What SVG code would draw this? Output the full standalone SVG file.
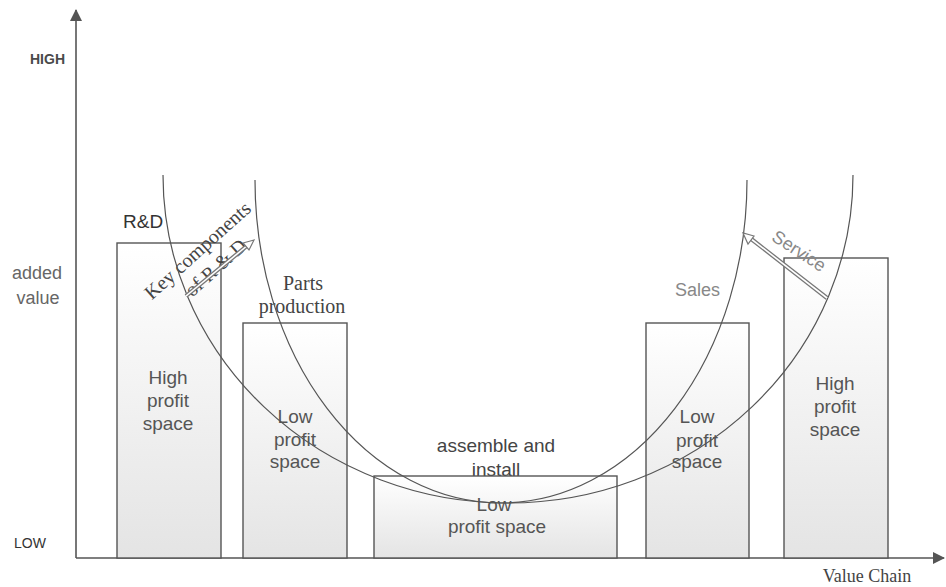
<svg xmlns="http://www.w3.org/2000/svg" width="946" height="587" viewBox="0 0 946 587">
<defs>
<linearGradient id="barg" x1="0" y1="0" x2="0" y2="1">
<stop offset="0" stop-color="#ffffff"/>
<stop offset="1" stop-color="#e4e4e4"/>
</linearGradient>
<marker id="ah" viewBox="0 0 12 12" refX="11" refY="6" markerWidth="12" markerHeight="12" markerUnits="userSpaceOnUse" orient="auto">
<path d="M0,0 L12,6 L0,12 Z" fill="#555"/>
</marker>
<style>
.bar{fill:url(#barg);stroke:#555;stroke-width:1.4}
.sans{font-family:"Liberation Sans",Arial,sans-serif}
.serif{font-family:"Liberation Serif","Times New Roman",serif}
.bt{font-family:"Liberation Sans",Arial,sans-serif;font-size:19px;fill:#555;text-anchor:middle}
.curve{fill:none;stroke:#555;stroke-width:1.2}
.axis{stroke:#555;stroke-width:1.6;fill:none}
.dbl{fill:none;stroke:#777;stroke-width:4.2}
.dbli{fill:none;stroke:#fff;stroke-width:1.6}
</style>
</defs>
<rect width="946" height="587" fill="#fff"/>

<g id="axes">
<line class="axis" x1="76" y1="558" x2="76" y2="10" marker-end="url(#ah)"/>
<line class="axis" x1="76" y1="558" x2="944" y2="558" marker-end="url(#ah)"/>
<text class="sans" x="30" y="64" font-size="14" font-weight="bold" fill="#4a4a4a">HIGH</text>
<text class="sans" x="14" y="548" font-size="14" fill="#333">LOW</text>
<text class="sans" x="37" y="279" font-size="18" fill="#666" text-anchor="middle">added</text>
<text class="sans" x="38" y="304" font-size="18" fill="#666" text-anchor="middle">value</text>
<text class="serif" x="867" y="582" font-size="18" fill="#444" text-anchor="middle">Value Chain</text>
</g>

<g id="rd">
<rect class="bar" x="117" y="243" width="104" height="315"/>
<text class="sans" x="123" y="228" font-size="19" fill="#333">R&amp;D</text>
<text class="bt" x="168" y="384">High</text>
<text class="bt" x="168" y="407">profit</text>
<text class="bt" x="168" y="430">space</text>
</g>

<g id="parts">
<rect class="bar" x="243" y="323" width="104" height="235"/>
<text class="serif" x="303" y="290" font-size="20" fill="#444" text-anchor="middle">Parts</text>
<text class="serif" x="302" y="313" font-size="20" fill="#444" text-anchor="middle">production</text>
<text class="bt" x="295" y="423">Low</text>
<text class="bt" x="295" y="446">profit</text>
<text class="bt" x="295" y="468">space</text>
</g>

<g id="assemble">
<text class="sans" x="496" y="452" font-size="19" fill="#444" text-anchor="middle">assemble and</text>
<text class="sans" x="496" y="476" font-size="19" fill="#444" text-anchor="middle">install</text>
<rect class="bar" x="374" y="476" width="243" height="82"/>
<text class="bt" x="494" y="511">Low</text>
<text class="bt" x="497" y="533">profit space</text>
</g>

<g id="sales">
<rect class="bar" x="646" y="323" width="103" height="235"/>
<text class="sans" x="675" y="296" font-size="18" fill="#888">Sales</text>
<text class="bt" x="697" y="423">Low</text>
<text class="bt" x="697" y="447">profit</text>
<text class="bt" x="697" y="468">space</text>
</g>

<g id="service">
<rect class="bar" x="784" y="258" width="104" height="300"/>
<text class="bt" x="835" y="390">High</text>
<text class="bt" x="835" y="413">profit</text>
<text class="bt" x="835" y="436">space</text>
</g>

<g id="keycomp">
<g transform="translate(198,251) rotate(-42)">
<text class="serif" x="0" y="6" font-size="20" fill="#444" text-anchor="middle">Key components</text>
<text class="serif" x="2" y="31" font-size="20" fill="#444" text-anchor="middle">of R &amp; D</text>
</g>
</g>

<g id="servicelabel">
<g transform="translate(799,251) rotate(33)">
<text class="sans" x="0" y="6" font-size="18" fill="#888" text-anchor="middle">Service</text>
</g>
</g>

<g id="connectors">
<path class="curve" d="M163,175 A345,328 0 0 0 853,175"/>
<path class="curve" d="M255,180 A246,323 0 0 0 747,180"/>
<path class="dbl" d="M186,296 L248,245"/>
<path class="dbli" d="M186,296 L248,245"/>
<path d="M254,240 L243,243 L249,250 Z" fill="#fff" stroke="#777" stroke-width="1.2"/>
<path class="dbl" d="M827,298 L750,238"/>
<path class="dbli" d="M827,298 L750,238"/>
<path d="M743,233 L748,244 L754,236 Z" fill="#fff" stroke="#777" stroke-width="1.2"/>
</g>
</svg>
